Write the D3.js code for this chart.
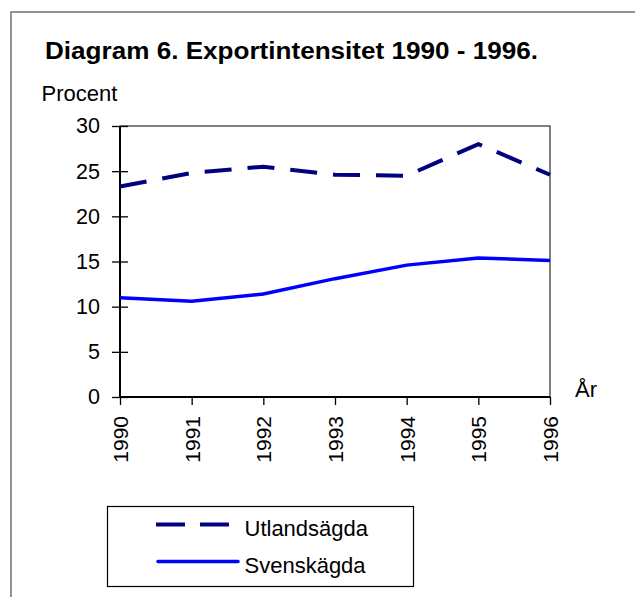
<!DOCTYPE html>
<html>
<head>
<meta charset="utf-8">
<script src="https://cdn.jsdelivr.net/npm/d3@7"></script>
<style>
  body { margin: 0; background: #fff; }
  text { font-family: Arial, "Liberation Sans", sans-serif; fill: #000; }
</style>
</head>
<body>
<script>
// Data
const years = ['1990', '1991', '1992', '1993', '1994', '1995', '1996'];
const utlandsagda = [23.3, 24.8, 25.5, 24.6, 24.5, 28.0, 24.6];
const svenskagda = [11.0, 10.6, 11.4, 13.1, 14.6, 15.4, 15.1];
const yTicks = [0, 5, 10, 15, 20, 25, 30];

const W = 635, H = 597;
const plot = { left: 120, right: 550, top: 126, bottom: 397 };

const svg = d3.select('body')
  .append('svg')
  .attr('width', W)
  .attr('height', H);

// outer frame (runs off right and bottom)
svg.append('rect')
  .attr('x', 11).attr('y', 12)
  .attr('width', W + 10).attr('height', H + 10)
  .attr('fill', 'none')
  .attr('stroke', '#7a7a7a')
  .attr('stroke-width', 1.6);

// title
svg.append('text')
  .attr('x', 45).attr('y', 58.5)
  .attr('font-size', 23.5)
  .attr('font-weight', 'bold')
  .attr('fill', '#222')
  .attr('textLength', 493)
  .attr('lengthAdjust', 'spacingAndGlyphs')
  .text('Diagram 6. Exportintensitet 1990 - 1996.');

svg.append('text')
  .attr('x', 41.5).attr('y', 101)
  .attr('font-size', 22)
  .text('Procent');

// scales
const x = d3.scalePoint()
  .domain(years)
  .range([plot.left, plot.right]);

const y = d3.scaleLinear()
  .domain([0, 30])
  .range([plot.bottom, plot.top]);

// plot border (top/right)
svg.append('rect')
  .attr('x', plot.left).attr('y', plot.top)
  .attr('width', plot.right - plot.left)
  .attr('height', plot.bottom - plot.top)
  .attr('fill', 'none')
  .attr('stroke', '#000')
  .attr('stroke-width', 1);

// y axis
const yAxis = svg.append('g')
  .attr('transform', `translate(${plot.left},0)`)
  .call(d3.axisLeft(y).tickValues(yTicks).tickSize(8).tickPadding(12));
yAxis.select('.domain').attr('stroke-width', 2).attr('d', `M0,${plot.top}V${plot.bottom}`);
yAxis.selectAll('.tick line').attr('x1', 8).attr('x2', -8).attr('stroke-width', 1.3);
yAxis.selectAll('.tick text').attr('font-size', 21.5).attr('font-family', 'Arial, "Liberation Sans", sans-serif');

// x axis
const xAxis = svg.append('g')
  .attr('transform', `translate(0,${plot.bottom})`)
  .call(d3.axisBottom(x).tickSize(8).tickSizeOuter(0));
xAxis.select('.domain').attr('stroke-width', 2).attr('d', `M${plot.left},0H${plot.right}`);
xAxis.selectAll('.tick line').attr('stroke-width', 1.3);
xAxis.selectAll('.tick text')
  .attr('font-size', 21)
  .attr('font-family', 'Arial, "Liberation Sans", sans-serif')
  .attr('transform', 'rotate(-90)')
  .attr('x', -19).attr('y', 0).attr('dy', '0.35em')
  .attr('text-anchor', 'end');

svg.append('text')
  .attr('x', 575).attr('y', 397)
  .attr('font-size', 22)
  .text('År');

// lines
const line = d3.line()
  .x((d, i) => x(years[i]))
  .y(d => y(d));

svg.append('path')
  .datum(svenskagda)
  .attr('d', line)
  .attr('fill', 'none')
  .attr('stroke', '#0000ff')
  .attr('stroke-width', 3.5);

svg.append('path')
  .datum(utlandsagda)
  .attr('d', line)
  .attr('fill', 'none')
  .attr('stroke', '#000080')
  .attr('stroke-width', 4)
  .attr('stroke-dasharray', '27,16');

// legend
const lg = svg.append('g');
lg.append('rect')
  .attr('x', 107.5).attr('y', 506.5)
  .attr('width', 306).attr('height', 80)
  .attr('fill', '#fff')
  .attr('stroke', '#000')
  .attr('stroke-width', 1.2);

const legendItems = [
  { name: 'Utlandsägda', color: '#000080', dash: '29,15', y: 524.5, w: 4 },
  { name: 'Svenskägda', color: '#0000ff', dash: null, y: 561.5, w: 3.5 }
];
legendItems.forEach(d => {
  lg.append('line')
    .attr('x1', d.dash ? 156 : 158).attr('x2', d.dash ? 229 : 238)
    .attr('y1', d.y).attr('y2', d.y)
    .attr('stroke', d.color)
    .attr('stroke-width', d.w)
    .attr('stroke-linecap', d.dash ? 'butt' : 'round')
    .attr('stroke-dasharray', d.dash);
  lg.append('text')
    .attr('x', 244.5).attr('y', d.y + 11)
    .attr('font-size', 22)
    .text(d.name);
});
</script>
</body>
</html>
